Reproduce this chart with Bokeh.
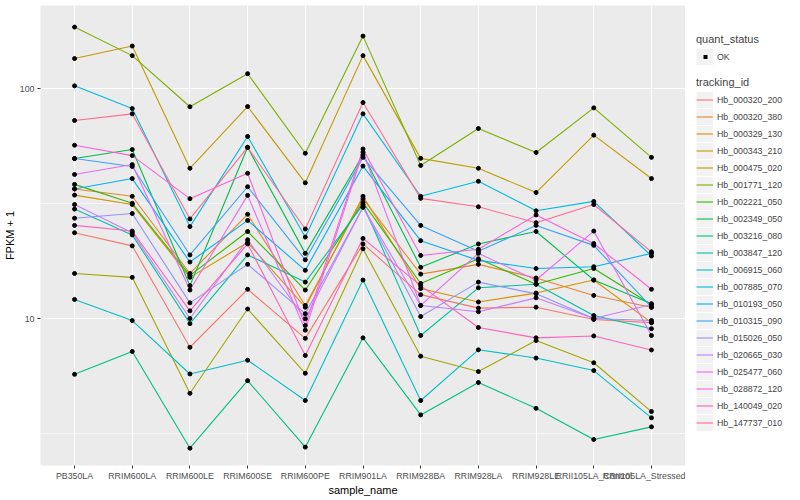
from bokeh.plotting import figure
from bokeh.layouts import row, column
from bokeh.models import (FactorRange, Range1d, FixedTicker, Legend, LegendItem,
                          BasicTickFormatter)
from bokeh.embed import file_html
from bokeh.resources import INLINE

samples = ["PB350LA", "RRIM600LA", "RRIM600LE", "RRIM600SE", "RRIM600PE",
           "RRIM901LA", "RRIM928BA", "RRIM928LA", "RRIM928LE",
           "RRII105LA_Control", "RRII105LA_Stressed"]

tracking_ids = ["Hb_000320_200", "Hb_000320_380", "Hb_000329_130", "Hb_000343_210",
                "Hb_000475_020", "Hb_001771_120", "Hb_002221_050", "Hb_002349_050",
                "Hb_003216_080", "Hb_003847_120", "Hb_006915_060", "Hb_007885_070",
                "Hb_010193_050", "Hb_010315_090", "Hb_015026_050", "Hb_020665_030",
                "Hb_025477_060", "Hb_028872_120", "Hb_140049_020", "Hb_147737_010"]

# FPKM + 1 per sample, in the order of `samples`
Hb_000320_200 = [23.6, 20.7, 7.5, 13.4, 8.2, 21.1, 12.7, 11.1, 11.2, 9.9, 9.6]
Hb_000320_380 = [36.6, 34.0, 15.7, 28.4, 11.4, 33.2, 15.6, 17.2, 15.0, 12.6, 11.2]
Hb_000329_130 = [34.4, 31.3, 15.1, 21.4, 11.2, 34.0, 13.5, 11.8, 12.9, 14.7, 9.6]
Hb_000343_210 = [135, 153, 45.0, 83.5, 38.9, 139, 49.7, 45.0, 35.3, 62.7, 40.6]
Hb_000475_020 = [15.7, 15.1, 4.73, 11.0, 5.78, 20.1, 6.86, 5.88, 8.02, 6.42, 3.94]
Hb_001771_120 = [185, 139, 83.3, 116, 52.3, 169, 46.3, 67.0, 52.7, 82.4, 50.2]
Hb_002221_050 = [38.3, 31.7, 15.4, 23.9, 13.3, 32.0, 14.2, 18.2, 14.1, 16.5, 11.5]
Hb_002349_050 = [49.6, 54.3, 13.9, 55.5, 19.2, 51.5, 16.7, 21.1, 23.9, 14.7, 11.6]
Hb_003216_080 = [5.72, 7.19, 2.73, 5.37, 2.76, 8.24, 3.81, 5.27, 4.07, 2.98, 3.38]
Hb_003847_120 = [29.9, 23.1, 9.5, 18.9, 14.4, 31.3, 8.44, 13.6, 14.1, 10.3, 9.03]
Hb_006915_060 = [12.1, 9.8, 5.74, 6.59, 4.40, 14.7, 4.40, 7.31, 6.73, 5.94, 3.70]
Hb_007885_070 = [102.7, 81.8, 25.1, 61.9, 22.6, 77.6, 34.0, 39.5, 29.4, 32.3, 18.7]
Hb_010193_050 = [36.6, 40.6, 17.6, 26.7, 16.2, 46.0, 21.8, 17.9, 16.5, 16.8, 19.2]
Hb_010315_090 = [49.6, 45.8, 18.9, 37.4, 18.0, 50.2, 25.4, 19.6, 25.4, 20.8, 11.2]
Hb_015026_050 = [27.3, 28.6, 11.7, 17.2, 10.5, 30.5, 10.2, 14.4, 12.8, 10.0, 9.8]
Hb_020665_030 = [31.3, 23.6, 10.0, 22.0, 9.98, 30.5, 11.4, 10.7, 12.3, 10.0, 11.5]
Hb_025477_060 = [42.3, 46.7, 13.3, 34.3, 8.9, 52.9, 11.4, 19.2, 14.7, 24.0, 8.44]
Hb_028872_120 = [56.7, 51.1, 33.2, 42.8, 9.33, 54.6, 18.8, 20.0, 28.2, 21.2, 13.4]
Hb_140049_020 = [25.4, 24.0, 10.8, 21.1, 6.91, 22.3, 13.9, 9.14, 8.24, 8.4, 7.3]
Hb_147737_010 = [72.6, 77.6, 27.1, 55.5, 24.5, 86.9, 33.3, 30.6, 26.1, 31.3, 19.5]

series = [Hb_000320_200, Hb_000320_380, Hb_000329_130, Hb_000343_210, Hb_000475_020,
          Hb_001771_120, Hb_002221_050, Hb_002349_050, Hb_003216_080, Hb_003847_120,
          Hb_006915_060, Hb_007885_070, Hb_010193_050, Hb_010315_090, Hb_015026_050,
          Hb_020665_030, Hb_025477_060, Hb_028872_120, Hb_140049_020, Hb_147737_010]

y_ticks = [10, 100]
y_minor = [3.1623, 31.623]

colors = ["#F8766D", "#EA8331", "#D89000", "#C09B00", "#A3A500", "#7CAE00", "#39B600",
          "#00BB4E", "#00BF7D", "#00C1A3", "#00BFC4", "#00BAE0", "#00B0F6", "#35A2FF",
          "#9590FF", "#C77CFF", "#E76BF3", "#FA62DB", "#FF62BC", "#FF6C91"]

FONT = "Liberation Sans"

p = figure(x_range=FactorRange(factors=samples, range_padding=0.09,
                               range_padding_units="absolute"),
           y_range=Range1d(2.296, 229.6), y_axis_type="log",
           frame_width=645, frame_height=460,
           min_border_left=30, min_border_right=0, min_border_top=5, min_border_bottom=24,
           output_backend="svg", toolbar_location=None,
           background_fill_color="#EBEBEB", border_fill_color="white",
           outline_line_color=None)

ticker = FixedTicker(ticks=y_ticks, minor_ticks=y_minor)
p.yaxis.ticker = ticker
p.ygrid.ticker = ticker
p.yaxis.formatter = BasicTickFormatter()
p.yaxis.major_label_overrides = {10: "10", 100: "100"}

for ax in (p.xaxis, p.yaxis):
    ax.axis_line_color = None
    ax.major_tick_line_color = "#333333"
    ax.major_tick_in = 0
    ax.major_tick_out = 3
    ax.minor_tick_line_color = None
    ax.major_label_text_font = FONT
    ax.major_label_text_font_size = "8.8px"
    ax.major_label_text_color = "#4D4D4D"
    ax.major_label_standoff = 2
    ax.axis_label_text_font = FONT
    ax.axis_label_text_font_size = "11px"
    ax.axis_label_text_font_style = "normal"
    ax.axis_label_text_color = "black"
    ax.axis_label_standoff = 0

p.xaxis.axis_label = "sample_name"
p.yaxis.axis_label = "FPKM + 1"
p.yaxis.axis_label_standoff = 1

p.xgrid.grid_line_color = "white"
p.xgrid.grid_line_width = 1.1
p.ygrid.grid_line_color = "white"
p.ygrid.grid_line_width = 1.1
p.ygrid.minor_grid_line_color = "white"
p.ygrid.minor_grid_line_width = 0.55

for vals, col in zip(series, colors):
    p.line(samples, vals, line_color=col, line_width=1.1)

for vals in series:
    p.scatter(samples, vals, size=4, color="black")

# ---- legend panels (separate figures to the right of the plot panel) ----
def legend_panel(h, top):
    f = figure(width=112, height=h, x_axis_location=None, y_axis_location=None,
               min_border_left=11, min_border_right=0, min_border_bottom=0,
               min_border_top=top, output_backend="svg", toolbar_location=None,
               outline_line_color=None, background_fill_color="white",
               border_fill_color="white", x_range=(0, 1), y_range=(0, 1))
    f.grid.visible = False
    return f

def style_legend(leg):
    leg.location = "top_left"
    leg.background_fill_alpha = 0
    leg.border_line_color = None
    leg.padding = 0
    leg.margin = 0
    leg.spacing = 0
    leg.glyph_width = 17
    leg.glyph_height = 17
    leg.label_height = 17
    leg.label_standoff = 4
    leg.label_text_font = FONT
    leg.label_text_font_size = "8.8px"
    leg.title_text_font = FONT
    leg.title_text_font_size = "11px"
    leg.title_text_font_style = "normal"
    leg.title_standoff = 3

# off-range dummy renderers: they only supply legend key glyphs
lg1 = legend_panel(70, 33)
box1 = lg1.line([2, 3], [2, 2], line_color="#F2F2F2", line_width=16)
key_pt = lg1.line([2, 3], [2, 2], line_color="black", line_width=4,
                  line_dash="0 7 4 100", line_cap="butt")
leg1 = Legend(items=[LegendItem(label="OK", renderers=[box1, key_pt])], title="quant_status")
style_legend(leg1)
lg1.add_layout(leg1)

lg2 = legend_panel(422, 6)
box2 = lg2.line([2, 3], [2, 2], line_color="#F2F2F2", line_width=16)
key_lines = [lg2.line([2, 3], [2, 2], line_color=c, line_width=1.1) for c in colors]
leg2 = Legend(items=[LegendItem(label=t, renderers=[box2, r])
                     for t, r in zip(tracking_ids, key_lines)],
              title="tracking_id")
style_legend(leg2)
lg2.add_layout(leg2)

layout = row(p, column(lg1, lg2))
open("out.html", "w").write(file_html(layout, INLINE))
